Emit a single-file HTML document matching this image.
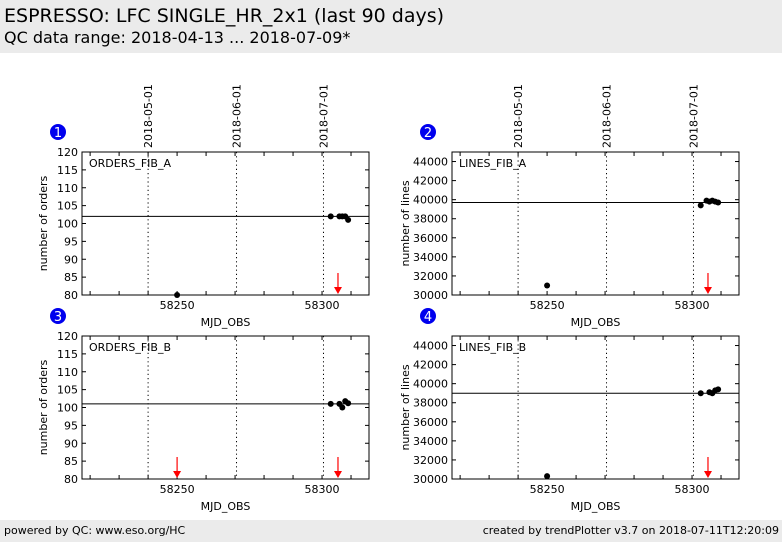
<!DOCTYPE html>
<html><head><meta charset="utf-8"><style>
body{margin:0;width:782px;height:542px;background:#fff;font-family:"DejaVu Sans","Liberation Sans",sans-serif;overflow:hidden;position:relative}
.hdr{position:absolute;left:0;top:0;width:782px;height:53px;background:#ebebeb}
.ftr{position:absolute;left:0;top:520px;width:782px;height:22px;background:#ebebeb;font-size:11px}
</style></head><body>
<div class="hdr">
<div style="position:absolute;left:4px;top:5px;font-size:19px">ESPRESSO: LFC SINGLE_HR_2x1 (last 90 days)</div>
<div style="position:absolute;left:4px;top:28px;font-size:16px">QC data range: 2018-04-13 ... 2018-07-09*</div>
</div>
<svg id="chart" width="782" height="520" style="position:absolute;left:0;top:0"></svg>
<div class="ftr">
<span style="position:absolute;left:4px;top:4px">powered by QC: www.eso.org/HC</span>
<span style="position:absolute;right:3px;top:4px">created by trendPlotter v3.7 on 2018-07-11T12:20:09</span>
</div>
<script>
const xTickVals=[58250,58300];
const dateLabels=['2018-05-01','2018-06-01','2018-07-01'];
const dateMjd=[58240,58270.5,58300.5];
const p1x=[58250,58303,58306,58307,58308,58309];
const p1y=[80,102,102,102,102,101];
const p1ref=102;
const p1arrows=[58305.5];
const p2x=[58250,58303,58305,58306,58307,58308,58309];
const p2y=[31000,39400,39900,39800,39900,39800,39700];
const p2ref=39700;
const p2arrows=[58305.5];
const p3x=[58303,58306,58307,58308,58309];
const p3y=[101,101,100,101.8,101.2];
const p3ref=101;
const p3arrows=[58250,58305.5];
const p4x=[58250,58303,58306,58307,58308,58309];
const p4y=[30300,39000,39100,39000,39300,39400];
const p4ref=39000;
const p4arrows=[58305.5];
const ordTicks=[80,85,90,95,100,105,110,115,120];
const lineTicks=[30000,32000,34000,36000,38000,40000,42000,44000];

const NS='http://www.w3.org/2000/svg';
const svg=document.getElementById('chart');
function el(t,a,p){const e=document.createElementNS(NS,t);for(const k in a)e.setAttribute(k,a[k]);(p||svg).appendChild(e);return e;}
function panel(idx,L,T,ymin,ymax,yTicks,ylab,label,xs,ys,ref,arrows,showDates){
  const W=287,H=143,xmin=58217.2,xmax=58316.2;
  const g=el('g',{});
  
  
  const X=v=>L+(v-xmin)/(xmax-xmin)*W;
  const Y=v=>T+H-(v-ymin)/(ymax-ymin)*H;
  // dotted date lines
  dateMjd.forEach((m,i)=>{
    const l=el('line',{x1:X(m),x2:X(m),y1:T,y2:T+H,stroke:'#000','stroke-dasharray':'1.2,3'},g);
    
    
    if(showDates){
      const t=el('text',{x:0,y:0,'font-size':11,transform:`translate(${X(m)+4},${T-4}) rotate(-90)`},g);
      t.textContent=dateLabels[i];
      
      
    }
  });
  // minor x ticks
  for(let v=58220;v<=58310;v+=10){
    el('line',{x1:X(v),x2:X(v),y1:T+H,y2:T+H-4,stroke:'#000'},g);
    el('line',{x1:X(v),x2:X(v),y1:T,y2:T+4,stroke:'#000'},g);
  }
  xTickVals.forEach(v=>{
    const t=el('text',{x:X(v),y:T+H+14,'font-size':11,'text-anchor':'middle'},g);
    t.textContent=v;
    
    
  });
  yTicks.forEach(v=>{
    el('line',{x1:L,x2:L+4,y1:Y(v),y2:Y(v),stroke:'#000'},g);
    el('line',{x1:L+W,x2:L+W-4,y1:Y(v),y2:Y(v),stroke:'#000'},g);
    const t=el('text',{x:L-4,y:Y(v)+4,'font-size':11,'text-anchor':'end'},g);
    t.textContent=v;
    
    
  });
  const rl=el('line',{x1:L,x2:L+W,y1:Y(ref),y2:Y(ref),stroke:'#000','stroke-width':1},g);
  
  
  xs.forEach((x,i)=>{
    const c=el('circle',{cx:X(x),cy:Y(ys[i]),r:3,fill:'#000'},g);
    
    
  });
  arrows.forEach(a=>{
    const ag=el('g',{},g);
    
    
    el('line',{x1:X(a),x2:X(a),y1:T+H-22,y2:T+H-6,stroke:'#f00','stroke-width':1.2},ag);
    el('polygon',{points:`${X(a)-4},${T+H-8} ${X(a)+4},${T+H-8} ${X(a)},${T+H-1}`,fill:'#f00'},ag);
  });
  const box=el('rect',{x:L,y:T,width:W,height:H,fill:'none',stroke:'#000'},g);
  
  
  const lt=el('text',{x:L+7,y:T+15,'font-size':11},g);
  lt.textContent=label;
  
  
  const xl=el('text',{x:L+W/2,y:T+H+31,'font-size':11,'text-anchor':'middle'},g);
  xl.textContent='MJD_OBS';
  
  
  const yl=el('text',{x:0,y:0,'font-size':11,'text-anchor':'middle',transform:`translate(${L-(ymax>1000?43:35)},${T+H/2}) rotate(-90)`},g);
  yl.textContent=ylab;
  
  
  const cx=L-24,cy=T-20;
  el('circle',{cx:cx,cy:cy,r:8,fill:'#0000ee'},g);
  const nt=el('text',{x:cx,y:cy+5,'font-size':13,fill:'#fff','text-anchor':'middle'},g);
  nt.textContent=idx;
  
  
}
panel(1,82,152,80,120,ordTicks,'number of orders','ORDERS_FIB_A',p1x,p1y,p1ref,p1arrows,true);
panel(2,452,152,30000,45000,lineTicks,'number of lines','LINES_FIB_A',p2x,p2y,p2ref,p2arrows,true);
panel(3,82,336,80,120,ordTicks,'number of orders','ORDERS_FIB_B',p3x,p3y,p3ref,p3arrows,false);
panel(4,452,336,30000,45000,lineTicks,'number of lines','LINES_FIB_B',p4x,p4y,p4ref,p4arrows,false);
</script>
</body></html>
